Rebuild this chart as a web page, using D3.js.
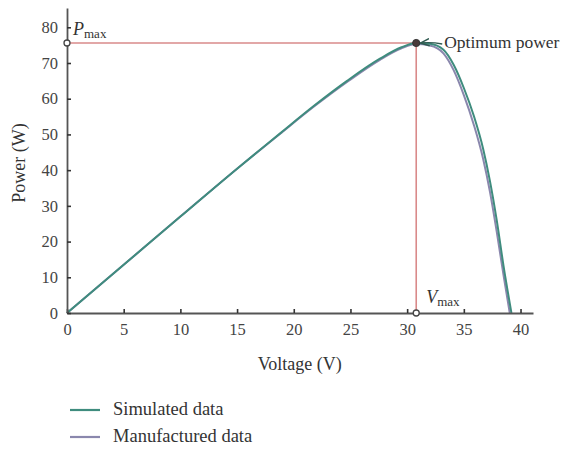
<!DOCTYPE html>
<html>
<head>
<meta charset="utf-8">
<script src="https://cdn.jsdelivr.net/npm/d3@7"></script>
<style>
  body { margin: 0; background: #fff; }
  text { font-family: "Liberation Serif", "DejaVu Serif", serif; fill: #333; }
</style>
</head>
<body>
<div id="chart"></div>
<script>
// values
var simV = [0, 5, 10, 15, 18.8, 21.7, 24.7, 27.6, 29.5, 30.8, 32, 33.2, 34.1, 35, 35.9, 36.7, 37.3, 37.9, 38.5, 39.2];
var simP = [0, 13.5, 27, 40.4, 50.3, 57.8, 65.0, 71.2, 74.4, 75.6, 75.4, 73.7, 69.5, 63, 55, 46, 37, 26, 13.2, 0];
var manV = [0, 5, 10, 15, 18.8, 21.7, 24.7, 27.6, 29.5, 30.8, 32, 33.2, 34.1, 35, 35.9, 36.7, 37.3, 37.9, 38.5, 39.05];
var manP = [0, 13.5, 27, 40.4, 50.2, 57.6, 64.7, 70.9, 74.1, 75.3, 74.9, 72.7, 68.0, 61.0, 52.5, 43.2, 34.0, 22.8, 10.6, 0];
var xTicks = [0, 5, 10, 15, 20, 25, 30, 35, 40];
var yTicks = [0, 10, 20, 30, 40, 50, 60, 70, 80];
var vMax = 30.8, pMax = 75.6;
var seriesNames = ["Simulated data", "Manufactured data"];
var seriesColors = ["#3f8c7e", "#8a87ad"];

var width = 571, height = 450;
var svg = d3.select("#chart").append("svg")
    .attr("width", width)
    .attr("height", height);

var x = d3.scaleLinear().domain([0, 41.1]).range([67, 533]);
var y = d3.scaleLinear().domain([0, 85.4]).range([313, 8]);

function toPoints(vs, ps) {
  return vs.map(function(v, i) { return [v, ps[i]]; });
}

var line = d3.line()
    .x(function(d) { return x(d[0]); })
    .y(function(d) { return y(d[1]); })
    .curve(d3.curveMonotoneX);

// max power guide lines
svg.append("line")
    .attr("x1", x(0)).attr("y1", y(pMax))
    .attr("x2", x(vMax)).attr("y2", y(pMax))
    .style("stroke", "#d98a8a").style("stroke-width", 1.6);
svg.append("line")
    .attr("x1", x(vMax)).attr("y1", y(pMax))
    .attr("x2", x(vMax)).attr("y2", y(0))
    .style("stroke", "#d98a8a").style("stroke-width", 1.6);

// curves
svg.append("path")
    .datum(toPoints(manV, manP))
    .attr("d", line)
    .style("fill", "none")
    .style("stroke", seriesColors[1])
    .style("stroke-width", 2);
svg.append("path")
    .datum(toPoints(simV, simP))
    .attr("d", line)
    .style("fill", "none")
    .style("stroke", seriesColors[0])
    .style("stroke-width", 2);

// axes
var xAxis = svg.append("g")
    .attr("transform", "translate(0," + y(0) + ")")
    .call(d3.axisBottom(x).tickValues(xTicks).tickSizeInner(-4).tickSizeOuter(0).tickPadding(10));
var yAxis = svg.append("g")
    .attr("transform", "translate(" + x(0) + ",0)")
    .call(d3.axisLeft(y).tickValues(yTicks).tickSizeInner(-4).tickSizeOuter(0).tickPadding(9));
[xAxis, yAxis].forEach(function(a) {
  a.select(".domain").style("stroke", "#555").style("stroke-width", 1.8);
  a.selectAll(".tick line").style("stroke", "#333").style("stroke-width", 1.6);
  a.selectAll(".tick text")
    .style("font-family", "Liberation Serif, serif")
    .style("font-size", "16.5px")
    .style("fill", "#444");
});

// markers
svg.append("circle").attr("cx", x(0)).attr("cy", y(pMax)).attr("r", 3)
    .style("fill", "#fff").style("stroke", "#444").style("stroke-width", 1.3);
svg.append("circle").attr("cx", x(vMax)).attr("cy", y(0)).attr("r", 3)
    .style("fill", "#fff").style("stroke", "#444").style("stroke-width", 1.3);
svg.append("circle").attr("cx", x(vMax)).attr("cy", y(pMax)).attr("r", 3.6)
    .style("fill", "#4a3a3a").style("stroke", "#333").style("stroke-width", 1);

// Pmax / Vmax labels
var pl = svg.append("text").attr("x", x(0) + 6).attr("y", y(pMax) - 8)
    .style("font-size", "18px");
pl.append("tspan").text("P").style("font-style", "italic");
pl.append("tspan").text("max").attr("dy", 3).style("font-size", "13px");

var vl = svg.append("text").attr("x", x(vMax) + 10).attr("y", y(0) - 10)
    .style("font-size", "18px");
vl.append("tspan").text("V").style("font-style", "italic");
vl.append("tspan").text("max").attr("dy", 3).style("font-size", "13px");

// optimum power annotation
svg.append("defs").append("marker")
    .attr("id", "arrowhead")
    .attr("viewBox", "0 0 10 10")
    .attr("refX", 9).attr("refY", 5)
    .attr("markerWidth", 7).attr("markerHeight", 7)
    .attr("orient", "auto")
  .append("path")
    .attr("d", "M0,1 L10,5 L0,9")
    .style("fill", "none")
    .style("stroke", "#2f5a50")
    .style("stroke-width", 1.6);
svg.append("path")
    .attr("d", "M" + (x(vMax) + 26) + "," + (y(pMax) + 1) + " Q" + (x(vMax) + 15) + "," + (y(pMax) - 1) + " " + (x(vMax) + 5) + "," + (y(pMax)))
    .style("fill", "none")
    .style("stroke", "#2f5a50")
    .style("stroke-width", 1.3)
    .attr("marker-end", "url(#arrowhead)");
svg.append("text")
    .attr("x", x(vMax) + 28).attr("y", y(pMax) + 5)
    .style("font-size", "17.5px")
    .text("Optimum power");

// axis titles
svg.append("text")
    .attr("x", (x(0) + x(40)) / 2 + 6).attr("y", 370)
    .attr("text-anchor", "middle")
    .style("font-size", "18px")
    .text("Voltage (V)");
svg.append("text")
    .attr("transform", "translate(25,163) rotate(-90)")
    .attr("text-anchor", "middle")
    .style("font-size", "18px")
    .text("Power (W)");

// legend
var legend = svg.append("g");
seriesNames.forEach(function(name, i) {
  var ly = 410 + i * 27;
  legend.append("line")
    .attr("x1", 70).attr("x2", 100)
    .attr("y1", ly).attr("y2", ly)
    .style("stroke", seriesColors[i]).style("stroke-width", 2.2);
  legend.append("text")
    .attr("x", 113).attr("y", ly + 5)
    .style("font-size", "18.5px")
    .text(name);
});
</script>
</body>
</html>
